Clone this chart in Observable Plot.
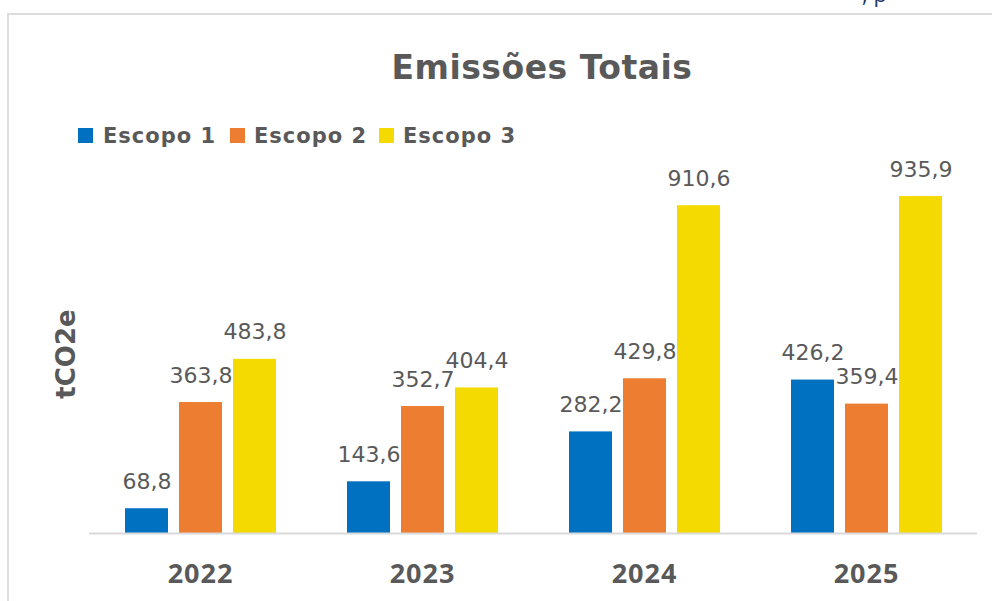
<!DOCTYPE html>
<html>
<head>
<meta charset="utf-8">
<script src="https://cdn.jsdelivr.net/npm/d3@7"></script>
<script src="https://cdn.jsdelivr.net/npm/@observablehq/plot@0.6"></script>
<style>
  html, body { margin: 0; padding: 0; background: #fff; }
  #wrap { position: relative; width: 992px; height: 601px; overflow: hidden; font-family: "DejaVu Sans", sans-serif; color: #595959; }
  #chart { position: absolute; left: 0; top: 0; }
  .frame { position: absolute; left: 7px; top: 13px; right: -10px; bottom: -10px; border-top: 2px solid #dcdcdc; border-left: 2px solid #dcdcdc; }
  .frag { position: absolute; left: 862px; top: -19px; font: 22px/24px "Open Sans", sans-serif; color: #1f3864; }
  .title { position: absolute; left: 0; width: 1084px; top: 51px; text-align: center; font: bold 33px/33px "DejaVu Sans", sans-serif; letter-spacing: 0.5px; white-space: nowrap; }
  .sw { position: absolute; top: 128px; width: 15px; height: 15px; }
  .ltext { position: absolute; top: 126px; font: bold 21px/21px "DejaVu Sans", sans-serif; letter-spacing: 1px; white-space: nowrap; }
  .ylabel { position: absolute; left: 66px; top: 354px; transform: translate(-50%, -50%) rotate(-90deg); font: bold 26px/30px "DejaVu Sans", sans-serif; white-space: nowrap; }
  g[aria-label^="fx-axis"] text { font: bold 27px "Open Sans", sans-serif; letter-spacing: 1px; fill: #595959; }
</style>
</head>
<body>
<div id="wrap">
  <div class="frame"></div>
  <div class="frag">, p</div>
  <div id="chart"></div>
  <div class="title">Emissões Totais</div>
  <div id="legend"></div>
  <div class="ylabel">tCO2e</div>
</div>
<script>
const years = ["2022", "2023", "2024", "2025"];
const seriesNames = ["Escopo 1", "Escopo 2", "Escopo 3"];
const escopo1 = [68.8, 143.6, 282.2, 426.2];
const escopo2 = [363.8, 352.7, 429.8, 359.4];
const escopo3 = [483.8, 404.4, 910.6, 935.9];
const colors = ["#0070C0", "#ED7D31", "#F4DA00"];

const seriesValues = [escopo1, escopo2, escopo3];
const data = [];
years.forEach((y, i) => {
  seriesNames.forEach((s, j) => {
    data.push({year: y, series: s, value: seriesValues[j][i]});
  });
});

const fmt = v => v.toFixed(1).replace(".", ",");

const chart = Plot.plot({
  width: 992,
  height: 601,
  marginTop: 173,
  marginBottom: 68,
  marginLeft: 88,
  marginRight: 15,
  style: {background: "transparent", color: "#595959", fontFamily: "DejaVu Sans, sans-serif"},
  facet: {data: data, x: "year"},
  fx: {domain: years, padding: 0, label: null, axis: "bottom", tickSize: 0, tickPadding: 30},
  x: {domain: seriesNames, paddingInner: 0.211, paddingOuter: 0.644, axis: null},
  y: {domain: [0, 1000], axis: null},
  color: {domain: seriesNames, range: colors},
  marks: [
    Plot.barY(data, {x: "series", y: "value", fill: "series"}),
    Plot.ruleY([0], {stroke: "#d9d9d9", strokeWidth: 2}),
    Plot.text(data, {x: "series", y: "value", text: d => fmt(d.value), dy: -20, lineAnchor: "bottom", fontSize: 22, fill: "#595959", fontFamily: "DejaVu Sans, sans-serif"})
  ]
});
document.getElementById("chart").appendChild(chart);

const swatchPos = [78, 230, 379];
const textPos = [103, 254, 403];
const legend = document.getElementById("legend");
seriesNames.forEach((s, j) => {
  const sw = document.createElement("div");
  sw.className = "sw";
  sw.style.left = swatchPos[j] + "px";
  sw.style.background = colors[j];
  legend.appendChild(sw);
  const t = document.createElement("div");
  t.className = "ltext";
  t.style.left = textPos[j] + "px";
  t.textContent = s;
  legend.appendChild(t);
});
</script>
</body>
</html>
